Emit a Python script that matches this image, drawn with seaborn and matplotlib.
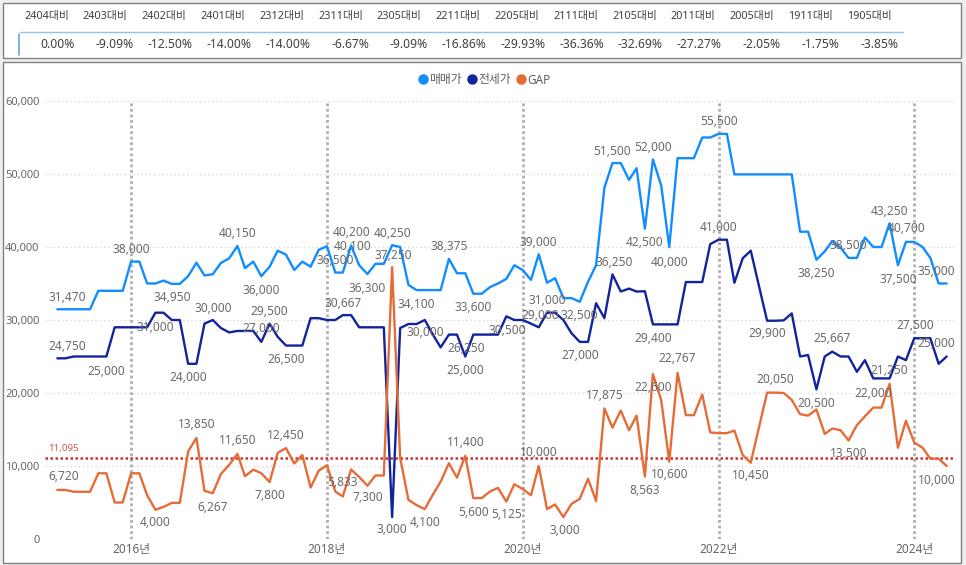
import matplotlib
matplotlib.use("Agg")
import matplotlib.pyplot as plt
from matplotlib.lines import Line2D
from matplotlib.patches import Rectangle
import pandas as pd
import seaborn as sns

# monthly points, 2015-04 .. 2024-05
months = pd.date_range("2015-04-01", "2024-05-01", freq="MS")

sale = [31470, 31470, 31470, 31470, 31470, 34000, 34000, 34000, 34000, 38000,
        38000, 35000, 35000, 35400, 34950, 34950, 36000, 37850, 36100, 36267,
        37800, 38450, 40150, 37100, 38000, 36000, 37300, 39500, 38950, 36850,
        38000, 37300, 39600, 40100, 36500, 36500, 40200, 37500, 36300, 37700,
        37700, 40250, 40000, 34800, 34100, 34100, 34100, 34100, 38375, 36400,
        36400, 33600, 33600, 34500, 35000, 35625, 37500, 36850, 35500, 39000,
        35100, 35733, 33000, 33000, 32500, 35250, 37500, 48125, 51500, 51500,
        49200, 50800, 42500, 52000, 48400, 40000, 52167, 52167, 52167, 55000,
        55000, 55500, 55500, 49950, 49950, 49950, 49950, 49950, 49950, 49950,
        49950, 42100, 42100, 38250, 39400, 40800, 39900, 38500, 38500, 41300,
        40000, 40000, 43250, 37500, 40700, 40700, 40000, 38500, 35000, 35000]

jeonse = [24750, 24750, 25000, 25000, 25000, 25000, 25000, 29000, 29000, 29000,
          29000, 29000, 31000, 31000, 30000, 30000, 24000, 24000, 29500, 30000,
          28900, 28300, 28500, 28500, 28500, 27000, 29500, 27700, 26500, 26500,
          26500, 30250, 30250, 30000, 30000, 30667, 30667, 29000, 29000, 29000,
          29000, 3000, 28900, 29450, 29450, 30000, 27950, 26250, 28000, 28000,
          25000, 28000, 28000, 28000, 28000, 30500, 30000, 30000, 29500, 29000,
          31000, 31000, 30000, 28200, 27000, 27000, 32300, 30250, 36250, 33900,
          34300, 33900, 33937, 29400, 29400, 29400, 29400, 35200, 35200, 35200,
          40400, 41000, 41000, 35100, 38450, 39500, 34600, 29900, 29900, 29950,
          30900, 25000, 25200, 20500, 25000, 25667, 25000, 25000, 22900, 24500,
          22000, 22000, 22000, 25000, 24500, 27500, 27500, 27500, 24000, 25000]

gap = [6720, 6720, 6470, 6470, 6470, 9000, 9000, 5000, 5000, 9000,
       9000, 6000, 4000, 4400, 4950, 4950, 12000, 13850, 6600, 6267,
       8900, 10150, 11650, 8600, 9500, 9000, 7800, 11800, 12450, 10350,
       11500, 7050, 9350, 10100, 6500, 5833, 9533, 8500, 7300, 8700,
       8700, 37250, 11100, 5350, 4650, 4100, 6150, 7850, 10375, 8400,
       11400, 5600, 5600, 6500, 7000, 5125, 7500, 6850, 6000, 10000,
       4100, 4733, 3000, 4800, 5500, 8250, 5200, 17875, 15250, 17600,
       14900, 16900, 8563, 22600, 19000, 10600, 22767, 16967, 16967, 19800,
       14600, 14500, 14500, 14850, 11500, 10450, 15350, 20050, 20050, 20000,
       19050, 17100, 16900, 17750, 14400, 15133, 14900, 13500, 15600, 16800,
       18000, 18000, 21250, 12500, 16200, 13200, 12500, 11000, 11000, 10000]

gap_avg = 11095

series_names = ["매매가", "전세가", "GAP"]
series_colors = ["#118DFF", "#12239E", "#E66C37"]

table_headers = ["2404대비", "2403대비", "2402대비", "2401대비", "2312대비", "2311대비",
                 "2305대비", "2211대비", "2205대비", "2111대비", "2105대비", "2011대비",
                 "2005대비", "1911대비", "1905대비"]
table_values = ["0.00%", "-9.09%", "-12.50%", "-14.00%", "-14.00%", "-6.67%", "-9.09%",
                "-16.86%", "-29.93%", "-36.36%", "-32.69%", "-27.27%", "-2.05%",
                "-1.75%", "-3.85%"]

# which points carry a data label: (month index, dx px, dy px), dy<0 means above
sale_labels = [(0, 10, -12), (9, 0, -12), (14, 0, 14), (22, 0, -12), (25, 0, 14),
               (34, 0, -12), (36, 0, -13), (33, 26, 0), (41, 0, -12), (38, 0, 14),
               (44, 0, 14), (48, 0, -12), (51, 0, 14), (59, 0, -12), (64, 0, 14),
               (68, 0, -12), (73, 0, -12), (72, 0, 14), (75, 0, 15), (81, 0, -12),
               (93, 0, 14), (97, 0, -12), (102, 0, -12), (103, 0, 14), (104, 1, -13),
               (108, -2, -12)]
jeonse_labels = [(0, 10, -12), (6, 0, 15), (12, 0, 15), (16, 0, 14), (19, 0, -12),
                 (26, 0, -12), (25, 0, -13), (28, 0, 14), (35, 0, -12), (41, 0, 12),
                 (45, 0, 13), (47, 25, 1), (50, 0, 14), (55, 1, 14), (59, 1, -12),
                 (60, 0, -12), (64, 0, 14), (68, 2, -12), (73, 0, 14), (81, 0, -12),
                 (87, 0, 13), (93, 0, 14), (95, 0, -13), (100, 0, 15), (105, 1, -13),
                 (109, -11, -13)]
gap_labels = [(0, 6, -13), (12, 0, 13), (17, 0, -13), (19, 0, 14), (22, 0, -13),
              (26, 0, 13), (28, 0, -13), (35, 0, -14), (38, 0, 12), (41, 1, -12),
              (45, 0, 13), (50, 0, -13), (51, 0, 14), (55, 0, 13), (59, 0, -13),
              (62, 1, 13), (67, 0, -13), (72, 0, 14), (73, 0, 13), (75, 0, 13),
              (76, 0, -14), (85, 0, 13), (88, 0, -13), (97, 0, 13), (102, 0, -13),
              (109, -10, 14)]

sns.set_theme(style="white")
plt.rcParams["font.family"] = ["Noto Sans", "Noto Sans CJK KR", "DejaVu Sans"]

W, H = 966, 565
fig = plt.figure(figsize=(W / 100, H / 100), dpi=100, facecolor="#efefef")


def fx(px):
    return px / W


def fy(py):
    return 1 - py / H


# panel backgrounds (behind the axes)
fig.patches.append(Rectangle((fx(3), fy(58)), 958 / W, 55 / H, transform=fig.transFigure,
                             fc="white", ec="#808080", lw=1, zorder=-10))
fig.patches.append(Rectangle((fx(3), fy(563)), 958 / W, 501 / H, transform=fig.transFigure,
                             fc="white", ec="#808080", lw=1, zorder=-10))

# comparison table
fig.add_artist(Line2D([fx(20), fx(903)], [fy(32), fy(32)], color="#8cc4ea", lw=1))
fig.add_artist(Line2D([fx(19), fx(19)], [fy(34), fy(55)], color="#6aa6d8", lw=1.2))
for i, (h, v) in enumerate(zip(table_headers, table_values)):
    right = 75 + 58.8 * i
    fig.text(fx(right - 6), fy(17), h, ha="right", va="center", fontsize=7.8, color="#404040")
    fig.text(fx(right), fy(45), v, ha="right", va="center", fontsize=8.7, color="#404040")

# main chart
ax = fig.add_axes([fx(45), fy(539), (955 - 45) / W, (539 - 101) / H])
ax.set_facecolor("none")

df = pd.DataFrame({
    "date": list(months) * 3,
    "value": sale + jeonse + gap,
    "series": [s for s in series_names for _ in months],
})
sns.lineplot(data=df, x="date", y="value", hue="series", hue_order=series_names,
             palette=series_colors, linewidth=1.7, estimator=None, legend=False, ax=ax)

ax.axhline(gap_avg, color="#d0302f", lw=1.8, linestyle=(0, (1, 1)), zorder=1)
ax.annotate(f"{gap_avg:,}", xy=(0, gap_avg), xycoords=("axes fraction", "data"),
            xytext=(2, 7), textcoords="offset points", ha="left", va="center",
            fontsize=7, color="#d9534f")

for vals, labels in [(sale, sale_labels), (jeonse, jeonse_labels), (gap, gap_labels)]:
    for i, dx, dy in labels:
        ax.annotate(f"{vals[i]:,}", xy=(months[i], vals[i]), xytext=(dx * 0.72, -dy * 0.72),
                    textcoords="offset points", ha="center", va="center",
                    fontsize=8.6, color="#6b6b6b")

ax.set_xlim(pd.Timestamp("2015-02-14"), pd.Timestamp("2024-06-01"))
ax.set_ylim(0, 60000)
years = [2016, 2018, 2020, 2022, 2024]
ax.set_xticks([pd.Timestamp(f"{y}-01-01") for y in years])
ax.set_xticklabels([f"{y}년" for y in years])
ax.set_yticks(range(0, 60001, 10000))
ax.set_yticklabels([f"{t:,}" for t in range(0, 60001, 10000)])
ax.tick_params(axis="both", length=0, labelsize=8, labelcolor="#666666")
ax.tick_params(axis="x", labelsize=8.5, pad=3)
ax.tick_params(axis="y", pad=4)
ax.set_xlabel("")
ax.set_ylabel("")
ax.grid(axis="y", color="#d9d9d9", linestyle=(0, (1, 2)), linewidth=1)
ax.grid(axis="x", color="#b0b0b0", linestyle=(0, (1, 1)), linewidth=2)
for sp in ax.spines.values():
    sp.set_visible(False)

handles = [Line2D([], [], marker="o", linestyle="", color=c, markersize=6.5) for c in series_colors]
fig.legend(handles, series_names, loc="center", bbox_to_anchor=(fx(484), fy(80)), ncol=3,
           frameon=False, fontsize=8.5, handletextpad=0.05, columnspacing=0.35,
           handlelength=1.0, labelcolor="#605E5C", borderaxespad=0)

fig.savefig("out.png", dpi=100, facecolor=fig.get_facecolor())
